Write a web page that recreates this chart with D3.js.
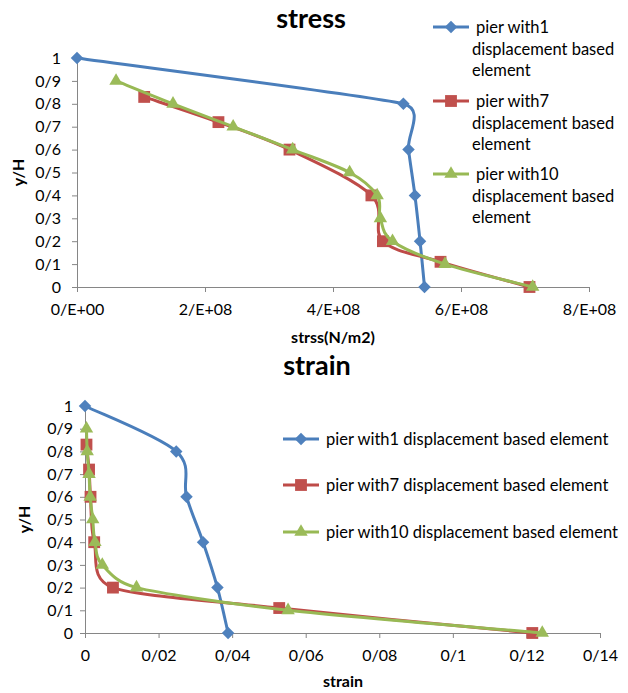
<!DOCTYPE html>
<html>
<head>
<meta charset="utf-8">
<script src="https://cdnjs.cloudflare.com/ajax/libs/d3/7.8.5/d3.min.js"></script>
<style>
  html, body { margin: 0; padding: 0; background: #fff; }
  svg { display: block; }
  text { font-family: Lato, "Open Sans", "DejaVu Sans", sans-serif; fill: #000; }
</style>
</head>
<body>
<svg id="chart" width="628" height="693"></svg>
<script>
// Height ratios y/H along the pier for each model
const heights1 = [1, 0.8, 0.6, 0.4, 0.2, 0];
const heights7 = [0.83, 0.72, 0.6, 0.4, 0.2, 0.11, 0];
const heights10 = [0.9, 0.8, 0.7, 0.6, 0.5, 0.4, 0.3, 0.2, 0.1, 0];

// Stress (N/m2)
const stress1 = [0, 5.10e8, 5.18e8, 5.28e8, 5.36e8, 5.43e8];
const stress7 = [1.05e8, 2.21e8, 3.32e8, 4.60e8, 4.78e8, 5.68e8, 7.07e8];
const stress10 = [0.61e8, 1.50e8, 2.44e8, 3.37e8, 4.26e8, 4.69e8, 4.74e8, 4.93e8, 5.75e8, 7.12e8];

// Strain
const strain1 = [0, 0.0248, 0.0276, 0.0321, 0.036, 0.0389];
const strain7 = [0.0004, 0.0011, 0.0015, 0.0025, 0.0076, 0.0528, 0.1216];
const strain10 = [0.0004, 0.0006, 0.0011, 0.0014, 0.0021, 0.0027, 0.0047, 0.014, 0.0552, 0.1243];

// Axis tick values and labels
const yTicks = [0, 0.1, 0.2, 0.3, 0.4, 0.5, 0.6, 0.7, 0.8, 0.9, 1];
const yTickLabels = ["0", "0/1", "0/2", "0/3", "0/4", "0/5", "0/6", "0/7", "0/8", "0/9", "1"];
const stressTicks = [0, 2e8, 4e8, 6e8, 8e8];
const stressTickLabels = ["0/E+00", "2/E+08", "4/E+08", "6/E+08", "8/E+08"];
const strainTicks = [0, 0.02, 0.04, 0.06, 0.08, 0.1, 0.12, 0.14];
const strainTickLabels = ["0", "0/02", "0/04", "0/06", "0/08", "0/1", "0/12", "0/14"];

const seriesNames = [
  "pier with1 displacement based element",
  "pier with7 displacement based element",
  "pier with10 displacement based element"
];
const seriesColors = ["#4A7EBB", "#BE4B48", "#98B954"];
const markerColors = ["#4F81BD", "#C0504D", "#9BBB59"];

const svg = d3.select("#chart");
const axisColor = "#868686";

// Marker shapes: diamond (rotated square), square, triangle
function marker(sel, i) {
  if (i === 0) {
    sel.attr("d", d3.symbol().type(d3.symbolSquare).size(78)())
      .attr("transform", function () { return d3.select(this).attr("transform") + " rotate(45)"; });
  } else if (i === 1) {
    sel.attr("d", d3.symbol().type(d3.symbolSquare).size(140)());
  } else {
    sel.attr("d", d3.symbol().type(d3.symbolTriangle).size(78)());
  }
  sel.attr("fill", markerColors[i]);
}

// Smoothed polyline: cubic Bezier with neighbour tangents, control arms
// shortened when adjacent segments are much shorter than the tangent chord.
function armFactor(a, b, c, isEnd) {
  const d01 = Math.hypot(b[0] - a[0], b[1] - a[1]);
  const d12 = Math.hypot(c[0] - b[0], c[1] - b[1]);
  const d02 = Math.hypot(c[0] - a[0], c[1] - a[1]);
  if (d02 === 0) return 0;
  let f = 1 / 6;
  const lim = isEnd ? d12 : Math.min(d01, d12);
  if (d02 / 6 >= lim / 2) f = lim / (2 * d02);
  return f;
}
function smoothPath(pts) {
  const p = d3.path();
  const n = pts.length;
  p.moveTo(pts[0][0], pts[0][1]);
  for (let i = 0; i < n - 1; i++) {
    const P0 = pts[Math.max(i - 1, 0)], P1 = pts[i], P2 = pts[i + 1], P3 = pts[Math.min(i + 2, n - 1)];
    const f1 = armFactor(P0, P1, P2, i === 0);
    const f2 = armFactor(P3, P2, P1, i + 2 > n - 1);
    const c1 = [P1[0] + f1 * (P2[0] - P0[0]), P1[1] + f1 * (P2[1] - P0[1])];
    const c2 = [P2[0] - f2 * (P3[0] - P1[0]), P2[1] - f2 * (P3[1] - P1[1])];
    p.bezierCurveTo(c1[0], c1[1], c2[0], c2[1], P2[0], P2[1]);
  }
  return p.toString();
}

function drawPanel(cfg) {
  const g = svg.append("g");
  const x = d3.scaleLinear().domain(cfg.xDomain).range([cfg.left, cfg.right]);
  const y = d3.scaleLinear().domain([0, 1]).range([cfg.bottom, cfg.top]);

  // x axis
  const xAxis = d3.axisBottom(x)
    .tickValues(cfg.xTicks)
    .tickFormat((d, i) => cfg.xTickLabels[i])
    .tickSizeInner(5).tickSizeOuter(0).tickPadding(12);
  const xg = g.append("g").attr("transform", `translate(0,${cfg.bottom})`).call(xAxis);
  xg.select(".domain").attr("stroke", axisColor);
  xg.selectAll(".tick line").attr("stroke", axisColor);
  xg.selectAll(".tick text").attr("font-size", 16).attr("font-family", "Lato, sans-serif");

  // y axis
  const yAxis = d3.axisLeft(y)
    .tickValues(yTicks)
    .tickFormat((d, i) => yTickLabels[i])
    .tickSizeInner(5).tickSizeOuter(0).tickPadding(cfg.yPad);
  const yg = g.append("g").attr("transform", `translate(${cfg.left},0)`).call(yAxis);
  yg.select(".domain").attr("stroke", axisColor);
  yg.selectAll(".tick line").attr("stroke", axisColor);
  yg.selectAll(".tick text").attr("font-size", 16).attr("font-family", "Lato, sans-serif");

  // titles
  g.append("text").attr("x", cfg.titleX).attr("y", cfg.titleY)
    .attr("text-anchor", "middle").attr("font-size", 27).attr("font-weight", "bold")
    .text(cfg.title);
  g.append("text").attr("x", cfg.xTitleX).attr("y", cfg.xTitleY)
    .attr("text-anchor", "middle").attr("font-size", 16).attr("font-weight", "bold")
    .text(cfg.xTitle);
  g.append("text")
    .attr("transform", `translate(${cfg.yTitleX},${(cfg.top + cfg.bottom) / 2}) rotate(-90)`)
    .attr("text-anchor", "middle").attr("font-size", 16).attr("font-weight", "bold")
    .text("y/H");

  // series lines and markers
  cfg.series.forEach((s, i) => {
    const pts = s.values.map((v, k) => [x(v), y(s.heights[k])]);
    g.append("path").attr("d", smoothPath(pts))
      .attr("fill", "none").attr("stroke", seriesColors[i])
      .attr("stroke-width", 3).attr("stroke-linejoin", "round");
    g.selectAll(null).data(pts).enter().append("path")
      .attr("transform", d => `translate(${d[0]},${d[1]})`)
      .call(marker, i);
  });

  // legend
  cfg.legend.forEach((lg, i) => {
    const lgG = g.append("g");
    lgG.append("line").attr("x1", lg.x).attr("x2", lg.x + 36)
      .attr("y1", lg.y).attr("y2", lg.y)
      .attr("stroke", seriesColors[i]).attr("stroke-width", 3);
    lgG.append("path").attr("transform", `translate(${lg.x + 18},${lg.y})`)
      .call(marker, i);
    const t = lgG.append("text").attr("x", lg.x + 43).attr("y", lg.y + 6)
      .attr("font-size", 16.5);
    lg.lines.forEach((ln, j) => {
      t.append("tspan").attr("x", lg.x + (j === 0 ? 43 : 39)).attr("dy", j === 0 ? 0 : 21.5).text(ln);
    });
  });
}

drawPanel({
  title: "stress", titleX: 311, titleY: 28,
  xTitle: "strss(N/m2)", xTitleX: 333, xTitleY: 343, yTitleX: 24, yPad: 11,
  left: 77, right: 589, top: 58, bottom: 287,
  xDomain: [0, 8e8], xTicks: stressTicks, xTickLabels: stressTickLabels,
  series: [
    { heights: heights1, values: stress1 },
    { heights: heights7, values: stress7 },
    { heights: heights10, values: stress10 }
  ],
  legend: [
    { x: 433, y: 27, lines: ["pier with1", "displacement based", "element"] },
    { x: 433, y: 101, lines: ["pier with7", "displacement based", "element"] },
    { x: 433, y: 174, lines: ["pier with10", "displacement based", "element"] }
  ]
});

drawPanel({
  title: "strain", titleX: 317, titleY: 375,
  xTitle: "strain", xTitleX: 343, xTitleY: 687, yTitleX: 30, yPad: 7,
  left: 85, right: 600, top: 406, bottom: 633,
  xDomain: [0, 0.14], xTicks: strainTicks, xTickLabels: strainTickLabels,
  series: [
    { heights: heights1, values: strain1 },
    { heights: heights7, values: strain7 },
    { heights: heights10, values: strain10 }
  ],
  legend: [
    { x: 283, y: 439, lines: [seriesNames[0]] },
    { x: 283, y: 485, lines: [seriesNames[1]] },
    { x: 283, y: 532, lines: [seriesNames[2]] }
  ]
});
</script>
</body>
</html>
